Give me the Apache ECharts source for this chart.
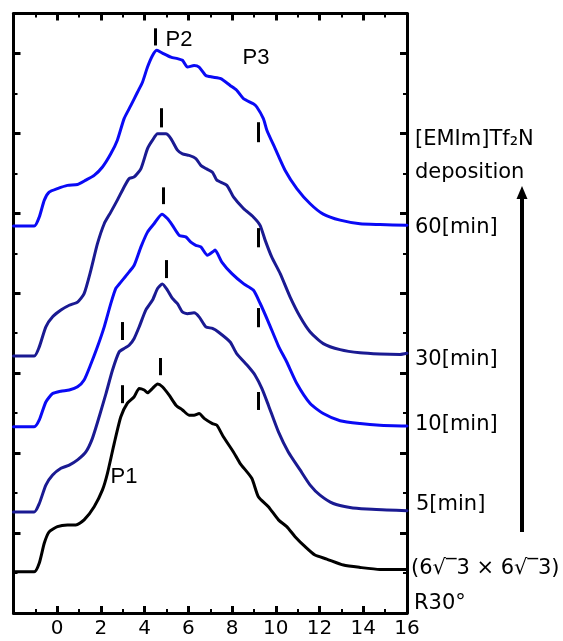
<!DOCTYPE html>
<html><head><meta charset="utf-8">
<script src="https://cdn.jsdelivr.net/npm/echarts@6/dist/echarts.min.js"></script>
<style>html,body{margin:0;padding:0;background:#fff}#c{width:563px;height:641px}</style>
</head><body><div id="c"></div>
<script>
// x tick labels
const xLabelValues = [0, 2, 4, 6, 8, 10, 12, 14, 16];
const yMajorTicks = [2, 4, 6, 8, 10, 12, 14];
const yMinorTicks = [1, 3, 5, 7, 9, 11, 13];

// (6√3×6√3)R30°
const blackX = [-2, -1.05, -0.82, -0.59, -0.37, 0.01, 0.47, 0.85, 1.23, 1.69, 2.07, 2.3, 2.61, 2.91, 3.21, 3.52, 3.75, 3.98, 4.13, 4.36, 4.59, 4.81, 5.12, 5.43, 5.73, 6.03, 6.26, 6.49, 6.72, 7.1, 7.3, 7.6, 8.06, 8.37, 8.9, 9.2, 9.66, 10.12, 10.5, 10.88, 11.34, 11.79, 12.33, 13.09, 13.85, 14.76, 15.82, 16];
const blackY = [1.03, 1.03, 1.25, 1.75, 2.03, 2.16, 2.2, 2.2, 2.33, 2.66, 3.08, 3.5, 4.25, 4.91, 5.25, 5.41, 5.62, 5.58, 5.51, 5.62, 5.73, 5.66, 5.45, 5.2, 5.08, 4.95, 4.95, 4.99, 4.87, 4.74, 4.7, 4.41, 4.03, 3.74, 3.37, 2.91, 2.66, 2.33, 2.16, 1.91, 1.66, 1.45, 1.35, 1.2, 1.14, 1.09, 1.09, 1.09];

// 5 min
const min5X = [-2, -1.05, -0.82, -0.52, -0.21, 0.17, 0.55, 0.93, 1.31, 1.61, 1.92, 2.23, 2.53, 2.83, 3.06, 3.29, 3.52, 3.75, 4.05, 4.36, 4.59, 4.81, 5.04, 5.27, 5.5, 5.73, 5.96, 6.26, 6.49, 6.8, 7.1, 7.37, 7.91, 8.21, 8.75, 9.05, 9.36, 9.66, 10.12, 10.57, 11.11, 11.57, 12.02, 12.63, 13.39, 14.16, 15.07, 16];
const min5Y = [2.53, 2.53, 2.74, 3.2, 3.45, 3.62, 3.7, 3.83, 4.03, 4.37, 4.91, 5.49, 6.08, 6.53, 6.62, 6.7, 6.87, 7.16, 7.58, 7.83, 8.12, 8.23, 8.08, 7.87, 7.74, 7.53, 7.49, 7.51, 7.41, 7.16, 7.12, 7.03, 6.78, 6.49, 6.16, 5.95, 5.62, 5.2, 4.53, 4.03, 3.58, 3.2, 2.95, 2.74, 2.64, 2.6, 2.58, 2.56];

// 10 min
const min10X = [-2, -1.05, -0.82, -0.52, -0.21, 0.17, 0.55, 0.93, 1.23, 1.54, 1.84, 2.15, 2.45, 2.68, 2.91, 3.21, 3.52, 3.83, 4.13, 4.43, 4.79, 5.04, 5.27, 5.58, 5.88, 6.11, 6.34, 6.57, 6.87, 7.1, 7.22, 7.53, 7.99, 8.52, 8.97, 9.28, 9.66, 10.12, 10.5, 10.96, 11.57, 12.17, 12.94, 13.85, 14.76, 16];
const min10Y = [4.66, 4.66, 4.83, 5.28, 5.49, 5.55, 5.58, 5.66, 5.83, 6.23, 6.66, 7.16, 7.74, 8.12, 8.28, 8.48, 8.7, 9.16, 9.53, 9.74, 9.98, 9.87, 9.7, 9.45, 9.41, 9.28, 9.2, 9.16, 8.95, 9.03, 9.08, 8.78, 8.49, 8.24, 8.08, 7.75, 7.28, 6.68, 6.28, 5.74, 5.24, 4.99, 4.81, 4.74, 4.7, 4.68];

// 30 min
const min30X = [-2, -1.05, -0.82, -0.52, -0.21, 0.17, 0.55, 0.93, 1.23, 1.54, 1.84, 2.15, 2.45, 2.75, 3.06, 3.29, 3.52, 3.83, 4.13, 4.36, 4.59, 4.97, 5.2, 5.5, 5.73, 6.03, 6.34, 6.57, 6.8, 7.1, 7.3, 7.76, 8.06, 8.52, 8.97, 9.28, 9.51, 9.81, 10.2, 10.65, 11.11, 11.57, 12.17, 12.94, 13.85, 14.76, 15.68, 16];
const min30Y = [6.43, 6.43, 6.66, 7.16, 7.41, 7.58, 7.7, 7.78, 7.99, 8.58, 9.24, 9.74, 10.03, 10.33, 10.66, 10.87, 10.91, 11.12, 11.62, 11.83, 11.99, 11.99, 11.87, 11.58, 11.49, 11.45, 11.37, 11.2, 11.12, 11.03, 10.83, 10.7, 10.41, 10.12, 9.91, 9.7, 9.33, 8.91, 8.49, 7.91, 7.41, 7.03, 6.74, 6.59, 6.51, 6.48, 6.47, 6.5];

// 60 min
const min60X = [-2, -1.05, -0.82, -0.59, -0.37, 0.01, 0.47, 0.93, 1.31, 1.69, 2.07, 2.45, 2.75, 3.06, 3.37, 3.67, 3.9, 4.13, 4.36, 4.56, 4.81, 5.2, 5.5, 5.73, 5.96, 6.26, 6.49, 6.8, 7.1, 7.48, 7.91, 8.21, 8.52, 8.97, 9.13, 9.43, 9.59, 9.97, 10.42, 10.96, 11.57, 12.17, 12.94, 13.85, 14.76, 16];
const min60Y = [9.68, 9.68, 9.91, 10.33, 10.53, 10.62, 10.7, 10.72, 10.83, 10.95, 11.16, 11.49, 11.83, 12.37, 12.7, 13.03, 13.28, 13.66, 13.95, 14.08, 14.01, 13.91, 13.87, 13.83, 13.66, 13.7, 13.66, 13.45, 13.41, 13.37, 13.2, 13.08, 12.87, 12.74, 12.66, 12.37, 12.08, 11.62, 11.08, 10.62, 10.24, 9.98, 9.83, 9.74, 9.72, 9.7];

// peak markers (short vertical bars)
const markerX = [4.47, 9.2, 4.74, 4.86, 9.2, 4.97, 9.2, 2.99, 4.71, 2.99, 9.2];
const markerYLow = [14.2, 11.78, 12.15, 10.23, 9.15, 8.38, 7.15, 6.83, 5.95, 5.25, 5.08];
const markerYHigh = [14.63, 12.28, 12.63, 10.65, 9.63, 8.83, 7.63, 7.28, 6.38, 5.7, 5.53];

const zip = (xs, ys) => xs.map((x, i) => [x, ys[i]]);
const NAVY = '#1a1a92';
const BLUE = '#0a0af5';

const chart = echarts.init(document.getElementById('c'), null, {renderer: 'canvas'});

function xAx(pos, labels) {
  return {
    type: 'value', position: pos, min: -2, max: 16, interval: 2,
    axisLine: {show: true, onZero: false, lineStyle: {color: '#000', width: 3}},
    axisTick: {show: true, inside: true, length: 7, lineStyle: {color: '#000', width: 3}},
    minorTick: {show: true, splitNumber: 2, length: 4, lineStyle: {color: '#000', width: 2}},
    axisLabel: {show: labels, customValues: xLabelValues, fontSize: 20, color: '#000', margin: 6, fontFamily: 'DejaVu Sans'},
    splitLine: {show: false}, minorSplitLine: {show: false}
  };
}
function yAx(pos, showLine, ticks, len, w) {
  return {
    type: 'value', position: pos, min: 0, max: 15,
    axisLine: {show: showLine, onZero: false, lineStyle: {color: '#000', width: 3}},
    axisTick: {show: true, inside: true, customValues: ticks, length: len, lineStyle: {color: '#000', width: w}},
    axisLabel: {show: false},
    splitLine: {show: false}
  };
}
function lineSeries(name, xs, ys, color, extra) {
  return Object.assign({
    name, type: 'line', data: zip(xs, ys), xAxisIndex: 0, yAxisIndex: 0,
    showSymbol: false, symbol: 'none', smooth: 0.2,
    lineStyle: {color, width: 3, join: 'round', cap: 'round'},
    itemStyle: {color}, silent: true, animation: false
  }, extra || {});
}

const markLineData = markerX.map((x, i) => [{coord: [x, markerYLow[i]]}, {coord: [x, markerYHigh[i]]}]);

const lblFont = '21px "DejaVu Sans"';
function txt(x, y, text, font, align) {
  return {type: 'text', x, y, silent: true, z: 100,
    style: {text, font, fill: '#000', align: align || 'left', verticalAlign: 'middle', textAlign: align || 'left', textVerticalAlign: 'middle'}};
}

chart.setOption({
  animation: false,
  backgroundColor: '#fff',
  grid: {left: 13.5, right: 156, top: 13.5, bottom: 28, containLabel: false},
  xAxis: [xAx('bottom', true), xAx('top', false)],
  yAxis: [
    yAx('left', true, yMajorTicks, 7, 3),
    yAx('left', false, yMinorTicks, 4, 2),
    yAx('right', true, yMajorTicks, 7, 3),
    yAx('right', false, yMinorTicks, 4, 2)
  ],
  series: [
    lineSeries('R30', blackX, blackY, '#000', {
      markLine: {
        silent: true, symbol: ['none', 'none'], animation: false,
        label: {show: false},
        lineStyle: {color: '#000', width: 3, type: 'solid', cap: 'butt'},
        emphasis: {disabled: true},
        data: markLineData
      }
    }),
    lineSeries('5min', min5X, min5Y, NAVY),
    lineSeries('10min', min10X, min10Y, BLUE),
    lineSeries('30min', min30X, min30Y, NAVY),
    lineSeries('60min', min60X, min60Y, BLUE)
  ],
  graphic: [
    txt(179, 40, 'P2', '22px "Liberation Sans"', 'center'),
    txt(256, 58, 'P3', '22px "Liberation Sans"', 'center'),
    txt(124, 477, 'P1', '22px "Liberation Sans"', 'center'),
    txt(415, 140, '[EMIm]Tf₂N', lblFont),
    txt(415, 173, 'deposition', lblFont),
    txt(415, 228, '60[min]', lblFont),
    txt(415, 360, '30[min]', lblFont),
    txt(415, 425, '10[min]', lblFont),
    txt(416, 505, '5[min]', lblFont),
    txt(411, 569, '(6√‾3 × 6√‾3)', lblFont),
    txt(414, 604, 'R30°', lblFont),
    {type: 'line', silent: true, shape: {x1: 522, y1: 532, x2: 522, y2: 196}, style: {stroke: '#000', lineWidth: 4}},
    {type: 'polygon', silent: true, shape: {points: [[522, 186], [516.5, 199], [527.5, 199]]}, style: {fill: '#000'}}
  ]
});
</script>
</body></html>
